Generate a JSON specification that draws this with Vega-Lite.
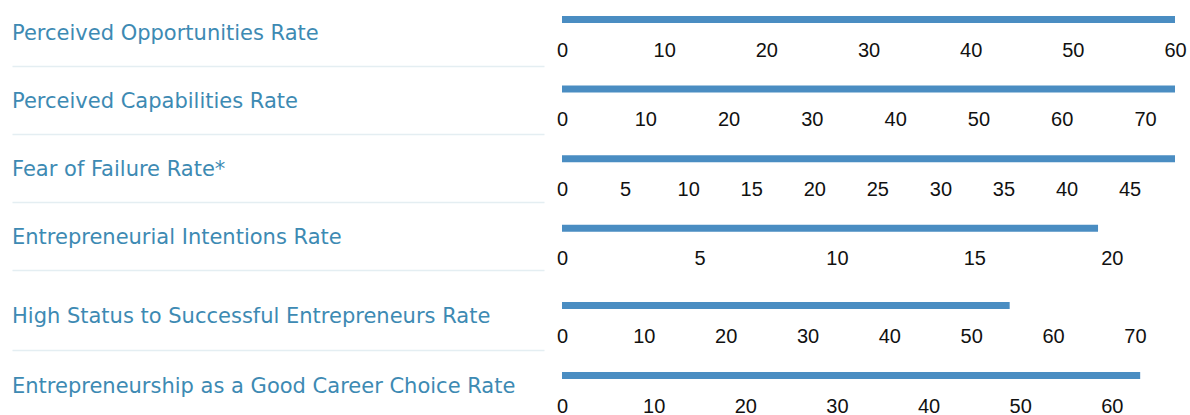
{
  "$schema": "https://vega.github.io/schema/vega-lite/v6.json",
  "padding": {"left": 12, "top": 6, "right": 0, "bottom": 0},
  "background": "white",
  "data": {"values": [
    {"label": "Perceived Opportunities Rate", "value": 60.0},
    {"label": "Perceived Capabilities Rate", "value": 73.6},
    {"label": "Fear of Failure Rate*", "value": 48.6},
    {"label": "Entrepreneurial Intentions Rate", "value": 19.5},
    {"label": "High Status to Successful Entrepreneurs Rate", "value": 54.7},
    {"label": "Entrepreneurship as a Good Career Choice Rate", "value": 63.1}
  ]},
  "config": {
    "view": {"stroke": null},
    "axis": {"minExtent": 0, "maxExtent": 300},
    "axisX": {"domain": false, "ticks": false, "grid": false, "title": null, "labelFlush": false, "labelOverlap": false, "labelPadding": 27, "labelBaseline": "middle", "labelFont": "Liberation Sans", "labelFontSize": 20, "labelColor": "#111111"}
  },
  "spacing": 12,
  "hconcat": [
    {
      "spacing": 8,
      "vconcat": [
        {
          "width": 532, "height": 60,
          "transform": [{"filter": "datum.label === 'Perceived Opportunities Rate'"}],
          "mark": {"type": "text", "align": "left", "baseline": "middle", "font": "DejaVu Sans", "fontSize": 21, "fill": "#3d8ab3", "dy": -2.5},
          "encoding": {
            "x": {"datum": 0, "type": "quantitative", "scale": {"domain": [0, 1]}, "axis": {"domain": true, "domainColor": "#e4eef2", "domainWidth": 1.5, "labels": false, "ticks": false, "grid": false, "title": null}},
            "text": {"field": "label"}
          }
        },
        {
          "width": 532, "height": 60,
          "transform": [{"filter": "datum.label === 'Perceived Capabilities Rate'"}],
          "mark": {"type": "text", "align": "left", "baseline": "middle", "font": "DejaVu Sans", "fontSize": 21, "fill": "#3d8ab3", "dy": -2.5},
          "encoding": {
            "x": {"datum": 0, "type": "quantitative", "scale": {"domain": [0, 1]}, "axis": {"domain": true, "domainColor": "#e4eef2", "domainWidth": 1.5, "labels": false, "ticks": false, "grid": false, "title": null}},
            "text": {"field": "label"}
          }
        },
        {
          "width": 532, "height": 60,
          "transform": [{"filter": "datum.label === 'Fear of Failure Rate*'"}],
          "mark": {"type": "text", "align": "left", "baseline": "middle", "font": "DejaVu Sans", "fontSize": 21, "fill": "#3d8ab3", "dy": -2.5},
          "encoding": {
            "x": {"datum": 0, "type": "quantitative", "scale": {"domain": [0, 1]}, "axis": {"domain": true, "domainColor": "#e4eef2", "domainWidth": 1.5, "labels": false, "ticks": false, "grid": false, "title": null}},
            "text": {"field": "label"}
          }
        },
        {
          "width": 532, "height": 60,
          "transform": [{"filter": "datum.label === 'Entrepreneurial Intentions Rate'"}],
          "mark": {"type": "text", "align": "left", "baseline": "middle", "font": "DejaVu Sans", "fontSize": 21, "fill": "#3d8ab3", "dy": -2.5},
          "encoding": {
            "x": {"datum": 0, "type": "quantitative", "scale": {"domain": [0, 1]}, "axis": {"domain": true, "domainColor": "#e4eef2", "domainWidth": 1.5, "labels": false, "ticks": false, "grid": false, "title": null}},
            "text": {"field": "label"}
          }
        },
        {
          "width": 532, "height": 72,
          "transform": [{"filter": "datum.label === 'High Status to Successful Entrepreneurs Rate'"}],
          "mark": {"type": "text", "align": "left", "baseline": "middle", "font": "DejaVu Sans", "fontSize": 21, "fill": "#3d8ab3", "dy": 2.5},
          "encoding": {
            "x": {"datum": 0, "type": "quantitative", "scale": {"domain": [0, 1]}, "axis": {"domain": true, "domainColor": "#e4eef2", "domainWidth": 1.5, "labels": false, "ticks": false, "grid": false, "title": null}},
            "text": {"field": "label"}
          }
        },
        {
          "width": 532, "height": 60,
          "transform": [{"filter": "datum.label === 'Entrepreneurship as a Good Career Choice Rate'"}],
          "mark": {"type": "text", "align": "left", "baseline": "middle", "font": "DejaVu Sans", "fontSize": 21, "fill": "#3d8ab3", "dy": -1.5},
          "encoding": {
            "x": {"datum": 0, "type": "quantitative", "scale": {"domain": [0, 1]}, "axis": {"domain": true, "domainColor": "#e4eef2", "domainWidth": 1.5, "labels": false, "ticks": false, "grid": false, "title": null}},
            "text": {"field": "label"}
          }
        }
      ]
    },
    {
      "spacing": 25.6,
      "vconcat": [
        {
          "width": 613, "height": 17,
          "transform": [{"filter": "datum.label === 'Perceived Opportunities Rate'"}],
          "mark": {"type": "bar", "color": "#4a8dc2"},
          "encoding": {
            "y": {"field": "label", "type": "nominal", "axis": null, "scale": {"paddingInner": 0, "paddingOuter": 0.714, "align": 1}},
            "x": {"field": "value", "type": "quantitative", "scale": {"domain": [0, 60], "nice": false, "zero": true}, "axis": {"values": [0, 10, 20, 30, 40, 50, 60]}}
          }
        },
        {
          "width": 613, "height": 7,
          "transform": [{"filter": "datum.label === 'Perceived Capabilities Rate'"}],
          "mark": {"type": "bar", "color": "#4a8dc2"},
          "encoding": {
            "y": {"field": "label", "type": "nominal", "axis": null, "scale": {"paddingInner": 0, "paddingOuter": 0}},
            "x": {"field": "value", "type": "quantitative", "scale": {"domain": [0, 73.6], "nice": false, "zero": true}, "axis": {"values": [0, 10, 20, 30, 40, 50, 60, 70]}}
          }
        },
        {
          "width": 613, "height": 7,
          "transform": [{"filter": "datum.label === 'Fear of Failure Rate*'"}],
          "mark": {"type": "bar", "color": "#4a8dc2"},
          "encoding": {
            "y": {"field": "label", "type": "nominal", "axis": null, "scale": {"paddingInner": 0, "paddingOuter": 0}},
            "x": {"field": "value", "type": "quantitative", "scale": {"domain": [0, 48.6], "nice": false, "zero": true}, "axis": {"values": [0, 5, 10, 15, 20, 25, 30, 35, 40, 45]}}
          }
        },
        {
          "width": 613, "height": 7,
          "transform": [{"filter": "datum.label === 'Entrepreneurial Intentions Rate'"}],
          "mark": {"type": "bar", "color": "#4a8dc2"},
          "encoding": {
            "y": {"field": "label", "type": "nominal", "axis": null, "scale": {"paddingInner": 0, "paddingOuter": 0}},
            "x": {"field": "value", "type": "quantitative", "scale": {"domain": [0, 22.3], "nice": false, "zero": true}, "axis": {"values": [0, 5, 10, 15, 20]}}
          }
        },
        {
          "width": 613, "height": 14.6,
          "transform": [{"filter": "datum.label === 'High Status to Successful Entrepreneurs Rate'"}],
          "mark": {"type": "bar", "color": "#4a8dc2"},
          "encoding": {
            "y": {"field": "label", "type": "nominal", "axis": null, "scale": {"paddingInner": 0, "paddingOuter": 0.543, "align": 1}},
            "x": {"field": "value", "type": "quantitative", "scale": {"domain": [0, 74.9], "nice": false, "zero": true}, "axis": {"values": [0, 10, 20, 30, 40, 50, 60, 70]}}
          }
        },
        {
          "width": 613, "height": 7,
          "transform": [{"filter": "datum.label === 'Entrepreneurship as a Good Career Choice Rate'"}],
          "mark": {"type": "bar", "color": "#4a8dc2"},
          "encoding": {
            "y": {"field": "label", "type": "nominal", "axis": null, "scale": {"paddingInner": 0, "paddingOuter": 0}},
            "x": {"field": "value", "type": "quantitative", "scale": {"domain": [0, 66.9], "nice": false, "zero": true}, "axis": {"values": [0, 10, 20, 30, 40, 50, 60]}}
          }
        }
      ]
    }
  ]
}
